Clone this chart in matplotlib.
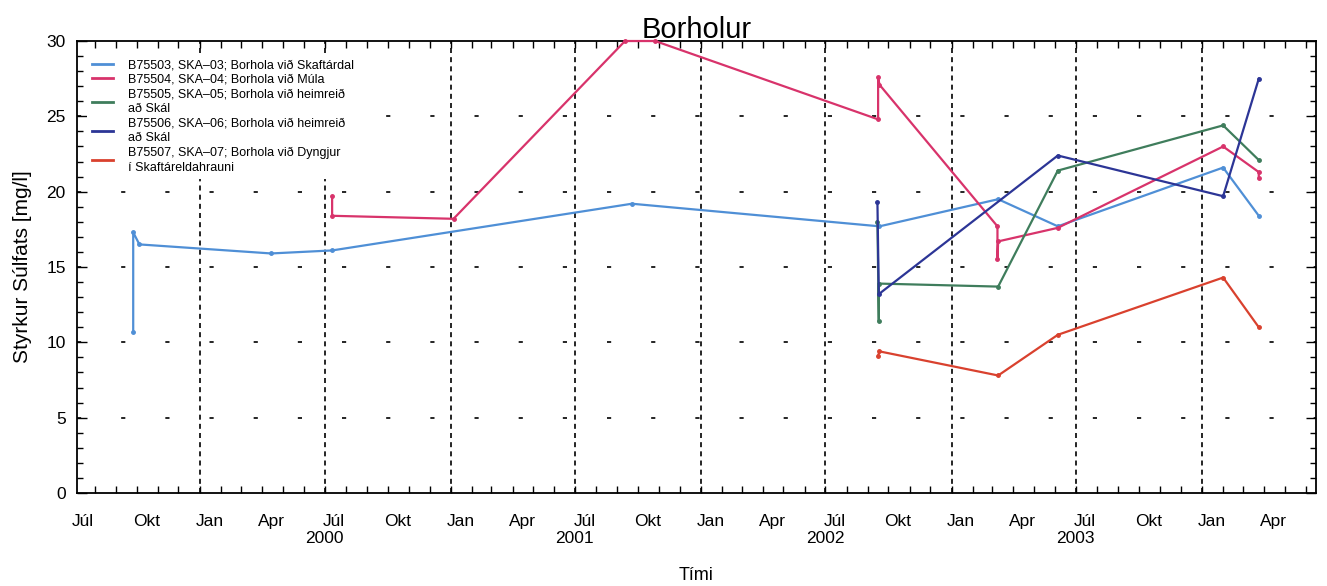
import matplotlib
matplotlib.use("Agg")
import matplotlib.pyplot as plt
import matplotlib.dates as mdates
import matplotlib.transforms as mtransforms
from matplotlib.lines import Line2D
import numpy as np
import datetime as dt

plt.rcParams['font.family'] = ['Liberation Sans', 'DejaVu Sans']

def d(s):
    return dt.datetime.strptime(s, "%Y-%m-%d")

# ---- data ----
ska03_dates = ["1999-09-26", "1999-09-26", "1999-10-05", "2000-04-14", "2000-07-12",
               "2001-09-22", "2002-09-18", "2003-03-10", "2003-06-05", "2004-02-01", "2004-03-24"]
ska03_vals = [10.7, 17.3, 16.5, 15.9, 16.1, 19.2, 17.7, 19.5, 17.7, 21.6, 18.4]

ska04_dates = ["2000-07-12", "2000-07-12", "2001-01-05", "2001-09-12", "2001-10-26",
               "2002-09-16", "2002-09-16", "2002-09-18", "2003-03-09", "2003-03-09",
               "2003-03-10", "2003-06-05", "2004-02-01", "2004-03-24", "2004-03-24"]
ska04_vals = [19.7, 18.4, 18.2, 30.0, 30.0, 24.8, 27.6, 27.1, 17.7, 15.5, 16.7, 17.6, 23.0, 21.3, 20.9]

ska05_dates = ["2002-09-15", "2002-09-17", "2002-09-17", "2003-03-10", "2003-06-05",
               "2004-02-01", "2004-03-24"]
ska05_vals = [18.0, 11.4, 13.9, 13.7, 21.4, 24.4, 22.1]

ska06_dates = ["2002-09-15", "2002-09-17", "2003-06-05", "2004-02-01", "2004-03-24"]
ska06_vals = [19.3, 13.2, 22.4, 19.7, 27.5]

ska07_dates = ["2002-09-16", "2002-09-18", "2003-03-10", "2003-06-05", "2004-02-01", "2004-03-24"]
ska07_vals = [9.1, 9.4, 7.8, 10.5, 14.3, 11.0]

series_labels = [
    "B75503, SKA\u201303; Borhola við Skaftárdal",
    "B75504, SKA\u201304; Borhola við Múla",
    "B75505, SKA\u201305; Borhola við heimreið\nað Skál",
    "B75506, SKA\u201306; Borhola við heimreið\nað Skál",
    "B75507, SKA\u201307; Borhola við Dyngjur\ní Skaftáreldahrauni",
]
series_colors = ["#4f8fd6", "#d8336b", "#3f7d5c", "#2c3596", "#d9412e"]

month_names = {1: "Jan", 4: "Apr", 7: "Júl", 10: "Okt"}
year_labels = [2000, 2001, 2002, 2003]

# ---- figure ----
fig = plt.figure(figsize=(13.27, 5.86), dpi=100)
ax = fig.add_axes([0.058, 0.1587, 0.9335, 0.7713])

all_dates = [ska03_dates, ska04_dates, ska05_dates, ska06_dates, ska07_dates]
all_vals = [ska03_vals, ska04_vals, ska05_vals, ska06_vals, ska07_vals]
for ds, vs, lab, col in zip(all_dates, all_vals, series_labels, series_colors):
    ax.plot([d(s) for s in ds], vs, color=col, lw=1.6, marker='o', ms=2.5,
            clip_on=False, zorder=3)

xmin, xmax = dt.datetime(1999, 7, 6), dt.datetime(2004, 6, 15)
ax.set_xlim(xmin, xmax)
ax.set_ylim(0, 30)

# vertical dotted gridlines at Jan 1 / Jul 1
for y in range(2000, 2005):
    for m in (1, 7):
        t = dt.datetime(y, m, 1)
        if xmin < t < xmax:
            ax.axvline(t, color='black', lw=1.2, ls=(0, (3, 2.5)), zorder=1)
# horizontal sparse dashes
for yv in [5, 10, 15, 20, 25]:
    ax.axhline(yv, color='black', lw=1.2, ls=(0, (2.5, 24)), zorder=1)

# x ticks: labels at mid-month, minor ticks monthly
ax.xaxis.set_major_locator(mdates.MonthLocator(bymonth=[1, 4, 7, 10], bymonthday=15))
ax.xaxis.set_major_formatter(plt.FuncFormatter(
    lambda v, p: month_names.get(mdates.num2date(v).month, "")))
ax.xaxis.set_minor_locator(mdates.MonthLocator())
ax.tick_params(axis='x', which='major', length=0, pad=15, labelsize=12.5)
ax.tick_params(axis='x', which='minor', direction='in', length=5, width=1,
               top=True, bottom=True)

trans = mtransforms.blended_transform_factory(ax.transData, ax.transAxes)
for yr in year_labels:
    ax.text(dt.datetime(yr, 7, 1), -0.1, str(yr), transform=trans,
            ha='center', va='center', fontsize=12.5)

# y ticks
ax.set_yticks([0, 5, 10, 15, 20, 25, 30])
ax.set_yticks(np.arange(0, 31, 1), minor=True)
ax.tick_params(axis='y', which='major', direction='in', length=7, width=1,
               left=True, right=True, labelsize=12.5, pad=8)
ax.tick_params(axis='y', which='minor', direction='in', length=4, width=1,
               left=True, right=True)

for sp in ax.spines.values():
    sp.set_linewidth(1.3)

ax.set_ylabel("Styrkur Súlfats [mg/l]", fontsize=15, labelpad=10)
fig.text(ax.get_position().x0 + ax.get_position().width / 2, 1 - 575 / 586, "Tími",
         ha='center', va='center', fontsize=13)
ax.set_title("Borholur", fontsize=21, pad=2)

handles = [Line2D([], [], color=c, lw=2) for c in series_colors]
leg = ax.legend(handles=handles, labels=series_labels, loc='upper left',
                bbox_to_anchor=(0.003, 0.985), frameon=True, fancybox=False,
                fontsize=9, handlelength=1.7, handletextpad=1.2,
                labelspacing=0.2, borderaxespad=0.5, borderpad=0.4)
for t in leg.get_texts():
    t.set_linespacing(1.32)
leg.get_frame().set_facecolor('white')
leg.get_frame().set_edgecolor('none')
leg.get_frame().set_alpha(1)
leg.set_zorder(5)

fig.savefig("out.png", dpi=100)
